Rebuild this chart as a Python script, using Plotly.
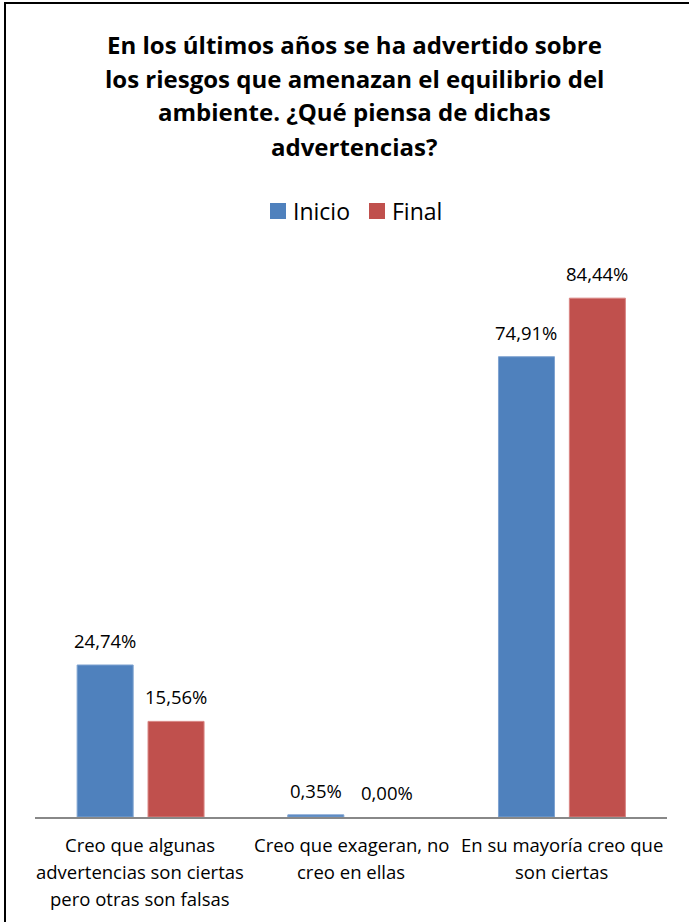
import plotly.graph_objects as go

# Survey answers and percentages for both rounds
categories = [
    "Creo que algunas advertencias son ciertas pero otras son falsas",
    "Creo que exageran, no creo en ellas",
    "En su mayoría creo que son ciertas",
]
category_lines = [
    ["Creo que algunas", "advertencias son ciertas", "pero otras son falsas"],
    ["Creo que exageran, no", "creo en ellas"],
    ["En su mayoría creo que", "son ciertas"],
]
inicio = [24.74, 0.35, 74.91]
final = [15.56, 0.00, 84.44]
series_names = ["Inicio", "Final"]
title_lines = [
    "En los últimos años se ha advertido sobre",
    "los riesgos que amenazan el equilibrio del",
    "ambiente. ¿Qué piensa de dichas",
    "advertencias?",
]

FONT = "Open Sans"
BLUE = "#4F81BD"
RED = "#C0504D"

W, H = 689, 922
L, R, T, B = 35, 22, 264, 105
plot_w = W - L - R
plot_h = H - T - B


def px_x(px):
    return (px - L) / plot_w


def px_y(py):
    return (H - B - py) / plot_h


xpos = list(range(len(categories)))
bar_w = 0.266
offsets = [-0.300, 0.0365]
colors = [BLUE, RED]
edge_colors = ["#7FA3D1", "#D98583"]
series_values = [inicio, final]

fig = go.Figure()
annotations = []
shapes = []
for name, vals, off, col, edge in zip(series_names, series_values, offsets, colors, edge_colors):
    fig.add_trace(go.Bar(
        name=name, x=xpos, y=vals,
        width=bar_w, offset=off,
        marker=dict(color=col,
                    line=dict(color=edge, width=[1 if v > 0 else 0 for v in vals])),
        cliponaxis=False, showlegend=False,
    ))
    # Value labels above each bar
    for xi, v in zip(xpos, vals):
        annotations.append(dict(
            text=("%.2f%%" % v).replace(".", ","), xref="x", yref="y",
            x=xi + off + bar_w / 2, y=v, xanchor="center", yanchor="bottom",
            yshift=10, showarrow=False,
            font=dict(family=FONT, size=18.5, color="#000000"),
        ))

# Title, one line per annotation for tighter leading
for i, line in enumerate(title_lines):
    annotations.append(dict(
        text="<b>%s</b>" % line, xref="paper", yref="paper",
        x=px_x(354), y=px_y(44 + 34 * i), xanchor="center", yanchor="middle",
        showarrow=False, font=dict(family=FONT, size=24, color="#000000"),
    ))

# Category labels under the axis
for i, lines in enumerate(category_lines):
    for j, line in enumerate(lines):
        annotations.append(dict(
            text=line, xref="x", yref="paper",
            x=xpos[i], y=px_y(844 + 27 * j), xanchor="center", yanchor="middle",
            showarrow=False, font=dict(family=FONT, size=18.5, color="#000000"),
        ))

# Legend: coloured squares followed by series names
legend_left = [270, 369]
for name, col, lx in zip(series_names, colors, legend_left):
    shapes.append(dict(
        type="rect", xref="paper", yref="paper",
        x0=px_x(lx), x1=px_x(lx + 16), y0=px_y(219), y1=px_y(203),
        fillcolor=col, line=dict(width=0),
    ))
    annotations.append(dict(
        text=name, xref="paper", yref="paper",
        x=px_x(lx + 21), y=px_y(211), xanchor="left", yanchor="middle",
        showarrow=False, font=dict(family=FONT, size=23, color="#000000"),
    ))

# Chart frame
shapes += [
    dict(type="line", xref="paper", yref="paper",
         x0=px_x(4), x1=px_x(W + 5), y0=px_y(3), y1=px_y(3),
         line=dict(color="#000000", width=2)),
    dict(type="line", xref="paper", yref="paper",
         x0=px_x(5), x1=px_x(5), y0=px_y(3), y1=px_y(H + 5),
         line=dict(color="#000000", width=2)),
]

fig.update_layout(
    width=W, height=H,
    margin=dict(l=L, r=R, t=T, b=B, pad=0),
    paper_bgcolor="#FFFFFF", plot_bgcolor="#FFFFFF",
    barmode="group",
    showlegend=False,
    annotations=annotations,
    shapes=shapes,
    font=dict(family=FONT),
)
fig.update_xaxes(
    range=[-0.5, 2.5], tickvals=xpos, ticktext=["", "", ""],
    showline=True, linecolor="#888888", linewidth=2,
    showgrid=False, zeroline=False, ticks="",
)
fig.update_yaxes(
    range=[0, 90], visible=False, showgrid=False, zeroline=False,
)

fig.write_html("out.html")
